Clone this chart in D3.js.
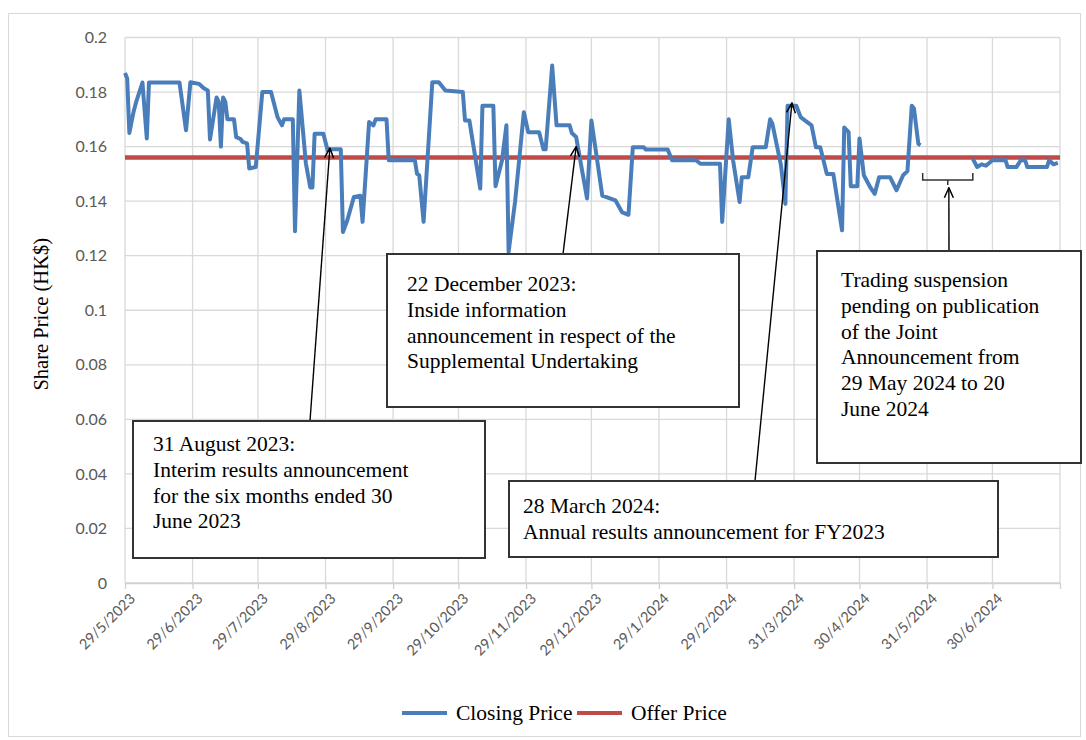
<!DOCTYPE html>
<html>
<head>
<meta charset="utf-8">
<script src="https://cdn.jsdelivr.net/npm/d3@7"></script>
<style>
  body { margin: 0; background: #fff; }
  .axis text { font-family: Lato, "Open Sans", sans-serif; fill: #595959; }
  .note text { font-family: "Liberation Serif", "Times New Roman", serif; font-size: 21.5px; fill: #000; }
</style>
</head>
<body>
<div id="chart"></div>
<script>
// Closing prices (HK$)
const closeDates = [
  "2023-05-29","2023-05-30","2023-05-31","2023-06-02","2023-06-03","2023-06-06","2023-06-08","2023-06-09",
  "2023-06-23","2023-06-26","2023-06-28","2023-07-02","2023-07-04","2023-07-06","2023-07-07","2023-07-10",
  "2023-07-11","2023-07-12","2023-07-13","2023-07-14","2023-07-15","2023-07-18","2023-07-19","2023-07-21",
  "2023-07-22","2023-07-24","2023-07-25","2023-07-28","2023-07-31","2023-08-04","2023-08-07","2023-08-09",
  "2023-08-10","2023-08-14","2023-08-15","2023-08-17","2023-08-20","2023-08-22","2023-08-23","2023-08-24",
  "2023-08-28","2023-08-30","2023-09-01","2023-09-05","2023-09-06","2023-09-08","2023-09-11","2023-09-14",
  "2023-09-15","2023-09-18","2023-09-20","2023-09-21","2023-09-26","2023-09-27","2023-10-09","2023-10-10",
  "2023-10-11","2023-10-13","2023-10-17","2023-10-20","2023-10-23","2023-10-31","2023-11-01","2023-11-03",
  "2023-11-08","2023-11-09","2023-11-14","2023-11-15","2023-11-18","2023-11-20","2023-11-21","2023-11-24",
  "2023-11-28","2023-11-30","2023-12-05","2023-12-07","2023-12-08","2023-12-11","2023-12-13","2023-12-19",
  "2023-12-20","2023-12-22","2023-12-27","2023-12-29","2024-01-03","2024-01-09","2024-01-12","2024-01-15",
  "2024-01-17","2024-01-22","2024-01-23","2024-02-02","2024-02-04","2024-02-15","2024-02-17","2024-02-26",
  "2024-02-27","2024-03-01","2024-03-03","2024-03-06","2024-03-07","2024-03-10","2024-03-12","2024-03-18",
  "2024-03-20","2024-03-21","2024-03-25","2024-03-27","2024-03-28","2024-04-01","2024-04-03","2024-04-06",
  "2024-04-08","2024-04-10","2024-04-12","2024-04-15","2024-04-18","2024-04-22","2024-04-23","2024-04-25",
  "2024-04-26","2024-04-29","2024-04-30","2024-05-02","2024-05-05","2024-05-07","2024-05-09","2024-05-14",
  "2024-05-17","2024-05-20","2024-05-22","2024-05-24","2024-05-25","2024-05-27","2024-05-28",
  "2024-06-21","2024-06-23","2024-06-25","2024-06-27","2024-06-30","2024-07-06","2024-07-07","2024-07-11",
  "2024-07-13","2024-07-15","2024-07-16","2024-07-25","2024-07-26","2024-07-28","2024-07-30"
];
const closePrices = [
  0.187,0.185,0.165,0.173,0.176,0.1835,0.163,0.1835,
  0.1835,0.166,0.1836,0.183,0.1815,0.1806,0.1626,0.178,
  0.1765,0.160,0.178,0.1765,0.170,0.170,0.1635,0.1628,
  0.1617,0.1612,0.152,0.1525,0.180,0.180,0.1708,0.1678,
  0.170,0.170,0.129,0.1806,0.1538,0.145,0.145,0.1647,
  0.1647,0.1586,0.159,0.159,0.1287,0.133,0.1415,0.142,
  0.1324,0.169,0.1678,0.170,0.170,0.155,0.155,0.150,
  0.1495,0.1324,0.1836,0.1836,0.1806,0.180,0.1696,0.1696,
  0.1446,0.175,0.175,0.1455,0.155,0.1678,0.1214,0.140,
  0.1726,0.1653,0.1653,0.159,0.159,0.1897,0.1678,0.1678,
  0.165,0.1635,0.141,0.1696,0.142,0.1403,0.136,0.135,
  0.1598,0.1598,0.1589,0.1589,0.155,0.155,0.1537,0.1537,
  0.1324,0.170,0.155,0.1397,0.1488,0.1488,0.1598,0.1598,
  0.170,0.1685,0.153,0.139,0.175,0.175,0.1708,0.169,
  0.1678,0.1598,0.1598,0.150,0.150,0.1293,0.167,0.1653,
  0.1455,0.1455,0.163,0.1495,0.145,0.1427,0.1488,0.1488,
  0.144,0.1495,0.151,0.175,0.174,0.161,0.1605,
  0.1555,0.1525,0.1535,0.153,0.155,0.155,0.1525,0.1525,
  0.155,0.155,0.1525,0.1525,0.155,0.1535,0.154
];
const offerPrice = 0.156;
const suspension = ["2024-05-29", "2024-06-21"];
const suspensionMark = 0.1478;

const xDomain = ["2023-05-29", "2024-07-31"];
const xTickLabels = ["29/5/2023","29/6/2023","29/7/2023","29/8/2023","29/9/2023","29/10/2023","29/11/2023",
  "29/12/2023","29/1/2024","29/2/2024","31/3/2024","30/4/2024","31/5/2024","30/6/2024"];
const yTicks = [0, 0.02, 0.04, 0.06, 0.08, 0.1, 0.12, 0.14, 0.16, 0.18, 0.2];

const legendNames = ["Closing Price", "Offer Price"];
const colors = { close: "#4A7EBB", offer: "#BE4B48" };

// Annotation boxes: the arrow tip sits on a date/price, the box is placed by hand
const notes = [
  { date: "2023-08-31", price: 0.1595, tailX: 310, box: { x: 133, y: 421, w: 352, h: 137, px: 20, py: 30 },
    lines: ["31 August 2023:", "Interim results announcement", "for the six months ended 30", "June 2023"] },
  { date: "2023-12-22", price: 0.160, tailX: 563, box: { x: 387, y: 254, w: 352, h: 153, px: 20, py: 37 },
    lines: ["22 December 2023:", "Inside information", "announcement in respect of the", "Supplemental Undertaking"] },
  { date: "2024-03-30", price: 0.176, tailX: 755, box: { x: 509, y: 481, w: 489, h: 76, px: 14, py: 32 },
    lines: ["28 March 2024:", "Annual results announcement for FY2023"] },
  { date: "2024-06-10", price: 0.1449, tailX: 949, box: { x: 817, y: 251, w: 264, h: 212, px: 24, py: 36 },
    lines: ["Trading suspension", "pending on publication", "of the Joint", "Announcement from", "29 May 2024 to 20", "June 2024"] }
];

const parseDate = d3.timeParse("%Y-%m-%d");
const parseLabel = d3.timeParse("%d/%m/%Y");

const width = 1086, height = 740;
const margin = { top: 37.5, right: 26, bottom: 157, left: 125 };
const innerW = width - margin.left - margin.right;
const innerH = height - margin.top - margin.bottom;

const svg = d3.select("#chart").append("svg")
  .attr("width", width)
  .attr("height", height);

// chart frame
svg.append("rect")
  .attr("x", 8.5).attr("y", 13.5)
  .attr("width", 1072).attr("height", 723)
  .attr("fill", "none")
  .attr("stroke", "#d9d9d9");

const g = svg.append("g")
  .attr("transform", `translate(${margin.left},${margin.top})`);

const x = d3.scaleTime()
  .domain(xDomain.map(parseDate))
  .range([0, innerW]);

const y = d3.scaleLinear()
  .domain([0, 0.2])
  .range([innerH, 0]);

const tickDates = xTickLabels.map(parseLabel).concat([parseDate(xDomain[1])]);

// gridlines
g.append("g").selectAll("line")
  .data(yTicks)
  .join("line")
  .attr("x1", 0).attr("x2", innerW)
  .attr("y1", d => y(d)).attr("y2", d => y(d))
  .attr("stroke", "#d9d9d9").attr("stroke-width", 1.3);

g.append("g").selectAll("line")
  .data(tickDates)
  .join("line")
  .attr("x1", d => x(d)).attr("x2", d => x(d))
  .attr("y1", 0).attr("y2", innerH)
  .attr("stroke", "#d9d9d9").attr("stroke-width", 1.3);

// axes
const xAxis = d3.axisBottom(x)
  .tickValues(tickDates)
  .tickFormat((d, i) => xTickLabels[i] || "")
  .tickSize(6)
  .tickSizeOuter(0);

const xg = g.append("g")
  .attr("class", "x-axis axis")
  .attr("transform", `translate(0,${innerH})`)
  .call(xAxis);
xg.select(".domain").attr("stroke", "#d0d0d0").attr("stroke-width", 1.5);
xg.selectAll(".tick line").attr("stroke", "#d0d0d0").attr("stroke-width", 1.3);
xg.selectAll(".tick text")
  .attr("font-size", "14.5px")
  .attr("text-anchor", "end")
  .attr("transform", "translate(7,13) rotate(-45)")
  .attr("x", 0).attr("y", 0).attr("dy", "0.35em");

const yAxis = d3.axisLeft(y)
  .tickValues(yTicks)
  .tickFormat(d => String(+d.toFixed(2)))
  .tickSize(0);

const yg = g.append("g")
  .attr("class", "y-axis axis")
  .call(yAxis);
yg.select(".domain").remove();
yg.selectAll(".tick text")
  .attr("font-size", "16px")
  .attr("x", -18);

// y axis title
svg.append("text")
  .attr("transform", `translate(48,${margin.top + innerH / 2 + 4}) rotate(-90)`)
  .attr("text-anchor", "middle")
  .style("font-family", "'Liberation Serif', 'Times New Roman', serif")
  .style("font-size", "20.5px")
  .text("Share Price (HK$)");

// offer price line
g.append("line")
  .attr("x1", 0).attr("x2", innerW)
  .attr("y1", y(offerPrice)).attr("y2", y(offerPrice))
  .attr("stroke", colors.offer)
  .attr("stroke-width", 4.5);

// closing price, split at the trading suspension
const data = closeDates.map((d, i) => ({ date: parseDate(d), price: closePrices[i] }));
const suspStart = parseDate(suspension[0]), suspEnd = parseDate(suspension[1]);
const segments = [
  data.filter(d => d.date < suspStart),
  data.filter(d => d.date >= suspEnd)
];

const line = d3.line()
  .x(d => x(d.date))
  .y(d => y(d.price));

g.selectAll(".close-line")
  .data(segments)
  .join("path")
  .attr("class", "close-line")
  .attr("d", line)
  .attr("fill", "none")
  .attr("stroke", colors.close)
  .attr("stroke-width", 4)
  .attr("stroke-linejoin", "round");

// suspension bracket
const bx0 = x(suspStart), bx1 = x(suspEnd), by = y(suspensionMark);
g.append("path")
  .attr("d", `M${bx0},${by - 7}V${by}H${bx1}V${by - 7}M${(bx0 + bx1) / 2},${by}v5`)
  .attr("fill", "none")
  .attr("stroke", "#333")
  .attr("stroke-width", 1.5);

// arrow marker
svg.append("defs").append("marker")
  .attr("id", "arrow")
  .attr("viewBox", "0 0 12 12")
  .attr("refX", 11).attr("refY", 6)
  .attr("markerWidth", 12).attr("markerHeight", 12)
  .attr("markerUnits", "userSpaceOnUse")
  .attr("orient", "auto")
  .append("path")
  .attr("d", "M1,1.5L11,6L1,10.5")
  .attr("fill", "none")
  .attr("stroke", "#000")
  .attr("stroke-width", 1.5);

const note = svg.selectAll(".note")
  .data(notes)
  .join("g")
  .attr("class", "note");

note.append("line")
  .attr("x1", d => d.tailX)
  .attr("y1", d => d.box.y)
  .attr("x2", d => margin.left + x(parseDate(d.date)))
  .attr("y2", d => margin.top + y(d.price))
  .attr("stroke", "#000")
  .attr("stroke-width", 1.4)
  .attr("marker-end", "url(#arrow)");

note.append("rect")
  .attr("x", d => d.box.x).attr("y", d => d.box.y)
  .attr("width", d => d.box.w).attr("height", d => d.box.h)
  .attr("fill", "#fff")
  .attr("stroke", "#333")
  .attr("stroke-width", 2);

note.append("text")
  .attr("x", d => d.box.x + d.box.px)
  .attr("y", d => d.box.y + d.box.py)
  .selectAll("tspan")
  .data(d => d.lines.map(t => ({ t, x: d.box.x + d.box.px })))
  .join("tspan")
  .attr("x", d => d.x)
  .attr("dy", (d, i) => i === 0 ? 0 : 25.8)
  .text(d => d.t);

// legend
const legend = svg.append("g")
  .attr("transform", "translate(402,713)");
const legendItems = [
  { name: legendNames[0], color: colors.close, x: 0 },
  { name: legendNames[1], color: colors.offer, x: 175 }
];
const li = legend.selectAll("g")
  .data(legendItems)
  .join("g")
  .attr("transform", d => `translate(${d.x},0)`);
li.append("line")
  .attr("x1", 0).attr("x2", 45)
  .attr("stroke", d => d.color)
  .attr("stroke-width", 4);
li.append("text")
  .attr("x", 54).attr("y", 7)
  .style("font-family", "'Liberation Serif', 'Times New Roman', serif")
  .style("font-size", "21.5px")
  .text(d => d.name);
</script>
</body>
</html>
